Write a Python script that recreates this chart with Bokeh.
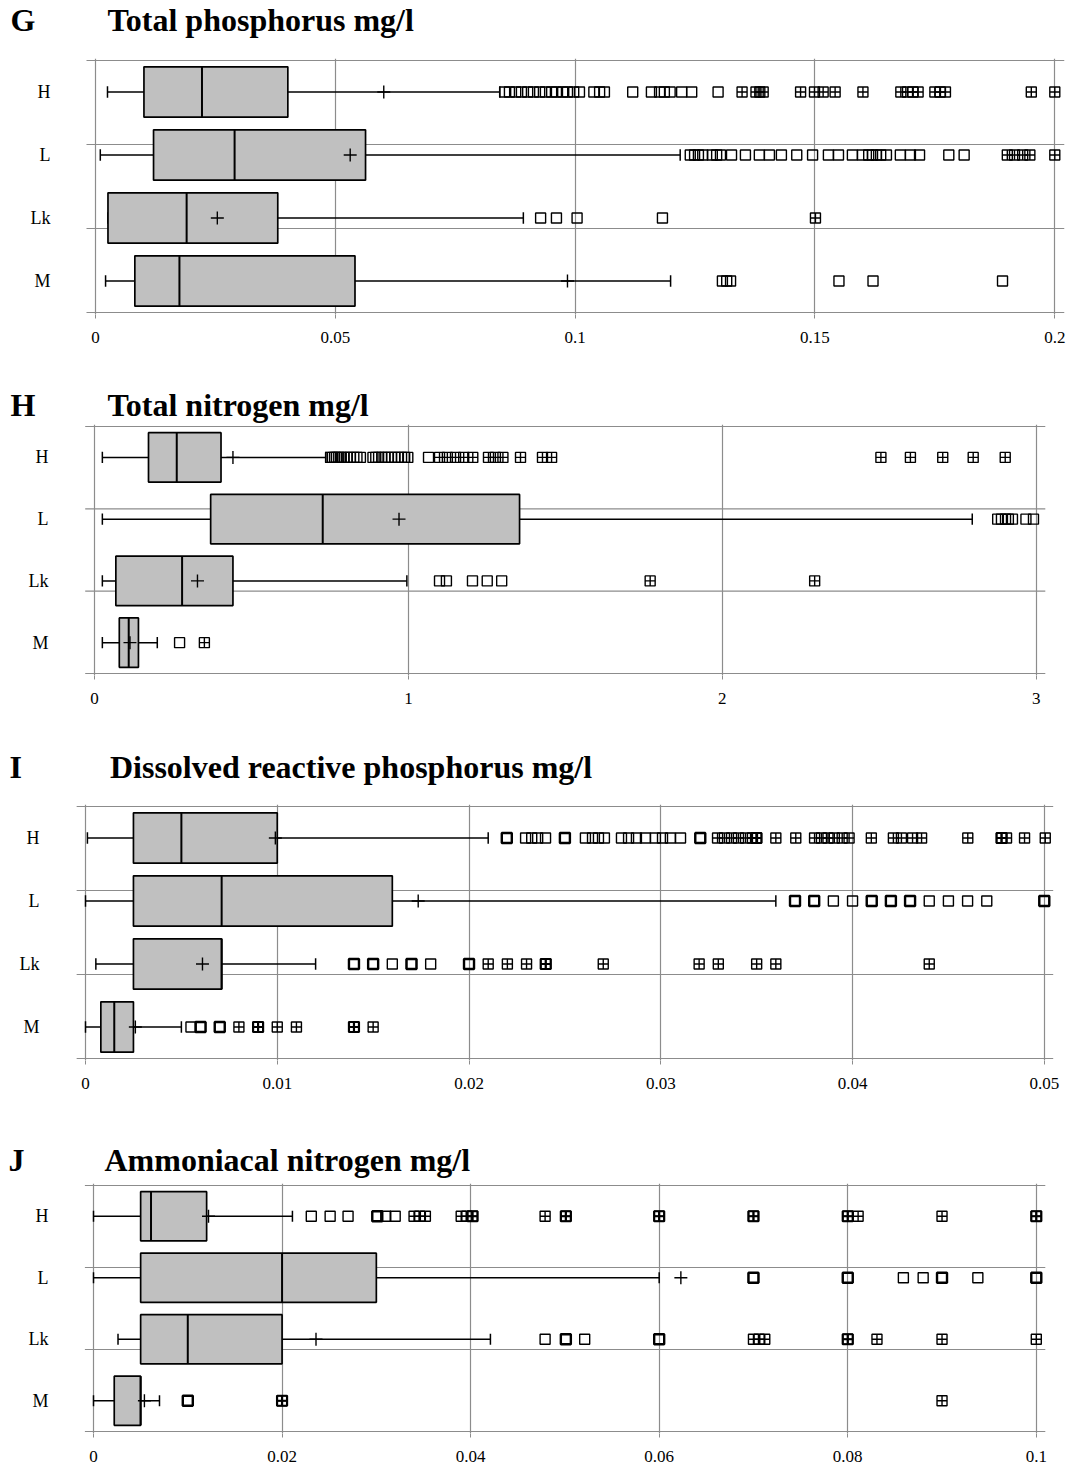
from bokeh.plotting import figure
from bokeh.layouts import column
from bokeh.models import Range1d, FixedTicker, Title
from bokeh.embed import file_html
from bokeh.resources import INLINE

CATEGORIES = ["H", "L", "Lk", "M"]

# ---------------- G : Total phosphorus mg/l ----------------
G_LOW = [0.0025, 0.0010, 0.0026, 0.0021]
G_Q1 = [0.0101, 0.0121, 0.0026, 0.0082]
G_MED = [0.0222, 0.0290, 0.0190, 0.0175]
G_Q3 = [0.0401, 0.0563, 0.0380, 0.0541]
G_HIGH = [0.0843, 0.1219, 0.0892, 0.1199]
G_MEAN = [0.0601, 0.0531, 0.0254, 0.0984]
G_OUT = [
    [0.0853, 0.0863, 0.0876, 0.0888, 0.0901, 0.0913, 0.0926, 0.0938, 0.0951, 0.0961,
     0.0974, 0.0984, 0.0997, 0.1009, 0.1039, 0.1051, 0.1061, 0.1120, 0.1159, 0.1176,
     0.1186, 0.1198, 0.1222, 0.1243, 0.1298],
    [0.1240, 0.1249, 0.1257, 0.1266, 0.1286, 0.1295, 0.1303, 0.1326, 0.1355, 0.1384,
     0.1405, 0.1430, 0.1462, 0.1495, 0.1528, 0.1549, 0.1578, 0.1599, 0.1612, 0.1620,
     0.1628, 0.1637, 0.1649, 0.1678, 0.1699, 0.1718, 0.1779, 0.1811],
    [0.0928, 0.0961, 0.1004, 0.1182],
    [0.1307, 0.1316, 0.1324, 0.1550, 0.1621, 0.1891],
]
G_FAR = [
    [0.1348, 0.1377, 0.1385, 0.1392, 0.1470, 0.1499, 0.1517, 0.1542, 0.1600, 0.1679,
     0.1693, 0.1704, 0.1715, 0.1750, 0.1761, 0.1772, 0.1951, 0.2000],
    [0.1901, 0.1916, 0.1933, 0.1948, 0.2000],
    [0.1501],
    [],
]
# outlier values that occur more than once (drawn heavier)
G_OUT_REPEAT = [[], [], [], []]
G_FAR_REPEAT = [[], [], [], []]
G_TICKS = [0, 0.05, 0.1, 0.15, 0.2]
G_TICK_LABELS = ["0", "0.05", "0.1", "0.15", "0.2"]

# ---------------- H : Total nitrogen mg/l ----------------
H_LOW = [0.025, 0.025, 0.025, 0.025]
H_Q1 = [0.172, 0.370, 0.068, 0.079]
H_MED = [0.262, 0.727, 0.279, 0.109]
H_Q3 = [0.403, 1.354, 0.441, 0.140]
H_HIGH = [0.737, 2.796, 0.995, 0.200]
H_MEAN = [0.441, 0.970, 0.328, 0.113]
H_OUT = [
    [0.752, 0.758, 0.765, 0.771, 0.778, 0.786, 0.795, 0.805, 0.815, 0.826, 0.836, 0.847,
     0.887, 0.896, 0.905, 0.915, 0.925, 0.935, 0.946, 0.957, 0.968, 0.978, 0.988, 0.998,
     1.064],
    [2.877, 2.889, 2.902, 2.911, 2.924, 2.967, 2.991],
    [1.099, 1.121, 1.204, 1.251, 1.297],
    [0.271],
]
H_FAR = [
    [1.099, 1.124, 1.150, 1.176, 1.205, 1.255, 1.277, 1.301, 1.357, 1.427, 1.456,
     2.505, 2.599, 2.702, 2.799, 2.901],
    [],
    [1.770, 2.294],
    [0.350],
]
H_OUT_REPEAT = [[], [], [], []]
H_FAR_REPEAT = [[], [], [], []]
H_TICKS = [0, 1, 2, 3]
H_TICK_LABELS = ["0", "1", "2", "3"]

# ---------------- I : Dissolved reactive phosphorus mg/l ----------------
I_LOW = [0.0001, 0.0, 0.00054, 0.0]
I_Q1 = [0.0025, 0.0025, 0.0025, 0.0008]
I_MED = [0.0050, 0.0071, 0.0071, 0.0015]
I_Q3 = [0.0100, 0.0160, 0.0071, 0.0025]
I_HIGH = [0.0210, 0.0360, 0.0120, 0.0050]
I_MEAN = [0.0099, 0.01735, 0.0061, 0.0026]
I_OUT = [
    [0.02197, 0.02295, 0.02327, 0.02358, 0.02399, 0.0250, 0.02607, 0.02644, 0.02675,
     0.02706, 0.02795, 0.02832, 0.02873, 0.0292, 0.02972, 0.03009, 0.0305, 0.03103,
     0.03206],
    [0.037, 0.038, 0.039, 0.040, 0.041, 0.042, 0.043, 0.044, 0.045, 0.046, 0.047, 0.050],
    [0.014, 0.015, 0.016, 0.017, 0.018, 0.020],
    [0.0055, 0.0060, 0.0070],
]
I_FAR = [
    [0.03296, 0.03332, 0.03369, 0.03405, 0.03442, 0.03478, 0.03499, 0.0360, 0.03704,
     0.03802, 0.03838, 0.03872, 0.03905, 0.03946, 0.03982, 0.04098, 0.04213, 0.04255,
     0.04313, 0.0436, 0.04601, 0.04777, 0.04803, 0.04897, 0.05005],
    [],
    [0.021, 0.022, 0.023, 0.024, 0.027, 0.032, 0.033, 0.035, 0.036, 0.044],
    [0.008, 0.009, 0.010, 0.011, 0.014, 0.015],
]
I_OUT_REPEAT = [[0.02197, 0.0250, 0.03206], [0.037, 0.038, 0.041, 0.042, 0.043, 0.050],
                [0.014, 0.015, 0.017, 0.020], [0.0060, 0.0070]]
I_FAR_REPEAT = [[0.03499, 0.04777], [], [0.024], [0.009, 0.014]]
I_TICKS = [0, 0.01, 0.02, 0.03, 0.04, 0.05]
I_TICK_LABELS = ["0", "0.01", "0.02", "0.03", "0.04", "0.05"]

# ---------------- J : Ammoniacal nitrogen mg/l ----------------
J_LOW = [0.0, 0.0, 0.0026, 0.0]
J_Q1 = [0.0050, 0.0050, 0.0050, 0.0022]
J_MED = [0.0061, 0.0200, 0.0100, 0.0050]
J_Q3 = [0.0120, 0.0300, 0.0200, 0.0050]
J_HIGH = [0.0211, 0.0600, 0.0421, 0.0070]
J_MEAN = [0.0122, 0.0623, 0.0236, 0.0054]
J_OUT = [
    [0.0231, 0.0251, 0.0270, 0.0301, 0.0310, 0.0320],
    [0.070, 0.080, 0.0859, 0.0880, 0.0900, 0.0938, 0.1000],
    [0.0479, 0.0501, 0.0521, 0.0600],
    [0.0100],
]
J_FAR = [
    [0.0340, 0.0346, 0.0352, 0.0390, 0.0396, 0.0402, 0.0479, 0.0501, 0.0600, 0.0700,
     0.0800, 0.0811, 0.0900, 0.1000],
    [],
    [0.0700, 0.0706, 0.0712, 0.0800, 0.0831, 0.0900, 0.1000],
    [0.0200, 0.0900],
]
J_OUT_REPEAT = [[0.0301], [0.070, 0.080, 0.0900, 0.1000], [0.0501, 0.0600], [0.0100]]
J_FAR_REPEAT = [[0.0402, 0.0501, 0.0600, 0.0700, 0.0800, 0.1000], [], [0.0800], [0.0200]]
J_TICKS = [0, 0.02, 0.04, 0.06, 0.08, 0.1]
J_TICK_LABELS = ["0", "0.02", "0.04", "0.06", "0.08", "0.1"]

PANELS = [
    dict(letter="G", title="Total phosphorus mg/l", low=G_LOW, q1=G_Q1, med=G_MED, q3=G_Q3,
         high=G_HIGH, mean=G_MEAN, out=G_OUT, far=G_FAR, out2=G_OUT_REPEAT, far2=G_FAR_REPEAT,
         ticks=G_TICKS, labels=G_TICK_LABELS),
    dict(letter="H", title="Total nitrogen mg/l", low=H_LOW, q1=H_Q1, med=H_MED, q3=H_Q3,
         high=H_HIGH, mean=H_MEAN, out=H_OUT, far=H_FAR, out2=H_OUT_REPEAT, far2=H_FAR_REPEAT,
         ticks=H_TICKS, labels=H_TICK_LABELS),
    dict(letter="I", title="Dissolved reactive phosphorus mg/l", low=I_LOW, q1=I_Q1, med=I_MED,
         q3=I_Q3, high=I_HIGH, mean=I_MEAN, out=I_OUT, far=I_FAR, out2=I_OUT_REPEAT,
         far2=I_FAR_REPEAT, ticks=I_TICKS, labels=I_TICK_LABELS),
    dict(letter="J", title="Ammoniacal nitrogen mg/l", low=J_LOW, q1=J_Q1, med=J_MED, q3=J_Q3,
         high=J_HIGH, mean=J_MEAN, out=J_OUT, far=J_FAR, out2=J_OUT_REPEAT, far2=J_FAR_REPEAT,
         ticks=J_TICKS, labels=J_TICK_LABELS),
]

# layout in pixels (common frame: x 76..1064)
# tfig: separate title strip (height, top border, standoff) or None -> title on the plot itself
FL, FR, W = 76, 1064, 1070
LAYOUT = [
    dict(tfig=(40, 36, -1.4), h=330, top=18, bottom=56, so=0,
         ls=86.0, le=1064.0, z0=95.0, z1=1054.3, lx=10, gap=9),
    dict(tfig=None, h=378, top=54, bottom=73, so=4,
         ls=84.7, le=1044.8, z0=94.0, z1=1035.8, lx=10, gap=9),
    dict(tfig=(42, 34, -2.6), h=340, top=14, bottom=70, so=0,
         ls=75.8, le=1052.7, z0=85.0, z1=1043.8, lx=9, gap=11),
    dict(tfig=None, h=337, top=53, bottom=34, so=12,
         ls=84.4, le=1044.8, z0=93.0, z1=1035.8, lx=8, gap=10),
]
PAD = 2  # pixels of frame beyond the outer horizontal lines

FONT = "Liberation Serif"
GRID = "#8c8c8c"
NBSP = "\u00a0"
TITLE_SIZE = "32px"


def make_title(d, L, standoff):
    return Title(text=d["letter"] + NBSP * L["gap"] + d["title"], align="left",
                 offset=L["lx"] - FL, standoff=standoff, text_font=FONT,
                 text_font_style="bold", text_font_size=TITLE_SIZE, text_color="black")


def make_title_strip(d, L):
    h, top, so = L["tfig"]
    t = figure(width=W, height=h, output_backend="svg", toolbar_location=None,
               x_axis_type=None, y_axis_type=None, x_range=Range1d(0, 1), y_range=Range1d(0, 1),
               min_border_left=FL, min_border_right=W - FR, min_border_top=top,
               min_border_bottom=0)
    t.outline_line_color = None
    t.border_fill_color = "white"
    t.background_fill_color = "white"
    t.title = make_title(d, L, so)
    return t


def flatten(ys, groups):
    xs, yy = [], []
    for y, g in zip(ys, groups):
        xs += g
        yy += [y] * len(g)
    return xs, yy


def make_panel(d, L):
    n = len(CATEGORIES)
    fh = L["h"] - L["top"] - L["bottom"]
    upp = (fh - 2 * PAD) / n
    pad = PAD / upp
    k = (L["z1"] - L["z0"]) / d["ticks"][-1]
    x0 = (FL - L["z0"]) / k
    x1 = (FR - L["z0"]) / k
    p = figure(width=W, height=L["h"], output_backend="svg", toolbar_location=None,
               x_range=Range1d(x0, x1), y_range=Range1d(-pad, n + pad),
               min_border_left=FL, min_border_right=W - FR,
               min_border_top=L["top"], min_border_bottom=L["bottom"])
    p.outline_line_color = None
    p.background_fill_color = "white"
    p.border_fill_color = "white"

    ys = [n - 0.5 - i for i in range(n)]

    # grids: vertical at ticks, horizontal lines dividing the frame in thirds
    p.xgrid.ticker = FixedTicker(ticks=d["ticks"])
    p.xgrid.grid_line_color = GRID
    p.xgrid.grid_line_width = 1.2
    p.ygrid.grid_line_color = None
    hl = [0, n / 3, 2 * n / 3, n]
    xs_ = (L["ls"] - L["z0"]) / k
    xe_ = (L["le"] - L["z0"]) / k
    p.segment(x0=[xs_] * len(hl), y0=hl, x1=[xe_] * len(hl), y1=hl,
              line_color=GRID, line_width=1.2)

    # axes
    xa = p.xaxis[0]
    xa.ticker = FixedTicker(ticks=d["ticks"])
    xa.major_label_overrides = {t: s for t, s in zip(d["ticks"], d["labels"])}
    xa.axis_line_color = None
    xa.major_tick_in = 0
    xa.major_tick_out = 4
    xa.major_tick_line_color = GRID
    xa.minor_tick_line_color = None
    xa.major_label_standoff = 13
    xa.major_label_text_font = FONT
    xa.major_label_text_font_size = "17px"
    xa.major_label_text_color = "black"

    ya = p.yaxis[0]
    ya.ticker = FixedTicker(ticks=ys)
    ya.major_label_overrides = {y: c for y, c in zip(ys, CATEGORIES)}
    ya.axis_line_color = None
    ya.major_tick_line_color = None
    ya.major_tick_in = 0
    ya.major_tick_out = 0
    ya.minor_tick_line_color = None
    ya.major_label_standoff = int(round(FL - (L["ls"] - 36.5)))
    ya.major_label_text_font = FONT
    ya.major_label_text_font_size = "18px"
    ya.major_label_text_color = "black"

    bw = 0.4
    cap = 0.09
    # whiskers
    p.segment(x0=d["low"], y0=ys, x1=d["q1"], y1=ys, line_color="black", line_width=1.5)
    p.segment(x0=d["q3"], y0=ys, x1=d["high"], y1=ys, line_color="black", line_width=1.5)
    p.segment(x0=d["low"], y0=[y - cap for y in ys], x1=d["low"], y1=[y + cap for y in ys],
              line_color="black", line_width=1.5)
    p.segment(x0=d["high"], y0=[y - cap for y in ys], x1=d["high"], y1=[y + cap for y in ys],
              line_color="black", line_width=1.5)
    # boxes
    p.quad(left=d["q1"], right=d["q3"], bottom=[y - bw for y in ys], top=[y + bw for y in ys],
           fill_color="#C0C0C0", line_color="black", line_width=1.7)
    p.segment(x0=d["med"], y0=[y - bw for y in ys], x1=d["med"], y1=[y + bw for y in ys],
              line_color="black", line_width=2)
    # means
    p.scatter(x=d["mean"], y=ys, marker="cross", size=13, line_color="black", line_width=1.4)
    # outliers (square) and far outliers (square with cross)
    for key, marker, lw in (("out", "square", 1.4), ("far", "square_cross", 1.4),
                            ("out2", "square", 2.4), ("far2", "square_cross", 2.2)):
        xs, yy = flatten(ys, d[key])
        if xs:
            p.scatter(x=xs, y=yy, marker=marker, size=10, fill_color=None,
                      line_color="black", line_width=lw)

    if L["tfig"] is None:
        p.title = make_title(d, L, L["so"])
    return p


children = []
for d, L in zip(PANELS, LAYOUT):
    if L["tfig"] is not None:
        children.append(make_title_strip(d, L))
    children.append(make_panel(d, L))

page = column(*children, spacing=0)
open("out.html", "w").write(file_html(page, INLINE))
